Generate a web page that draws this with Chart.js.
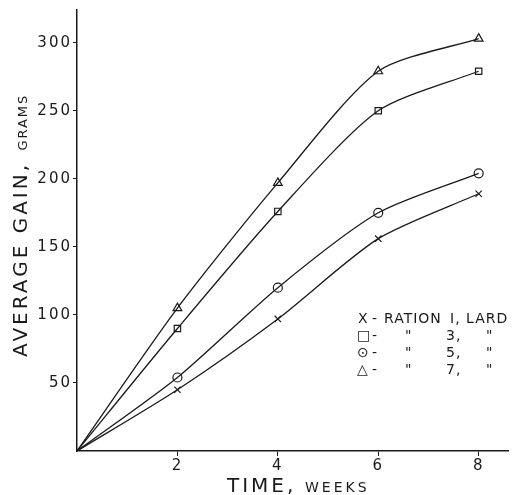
<!DOCTYPE html>
<html>
<head>
<meta charset="utf-8">
<script src="https://cdn.jsdelivr.net/npm/chart.js@4"></script>
<style>
  body { margin: 0; background: #fff; }
</style>
</head>
<body>
<canvas id="canvas-gain" width="515" height="495"></canvas>
<script>
const weeks = [0, 2, 4, 6, 8];
const ration1 = [0, 45, 97, 156, 189];
const ration3 = [0, 90, 176, 250, 279];
const ration5 = [0, 54, 120, 175, 204];
const ration7 = [0, 105, 197, 279, 303];
const xTicks = [2, 4, 6, 8];
const yTicks = [50, 100, 150, 200, 250, 300];
const legendRows = [
  ["X", "-", "RATION", "I, LARD", ""],
  ["□", "-", "\"", "3,", "\""],
  ["⊙", "-", "\"", "5,", "\""],
  ["△", "-", "\"", "7,", "\""],
];

const ink = "#1a1a1a";
const font = "'DejaVu Sans', sans-serif";

function series(values, style) {
  return {
    data: weeks.map((w, i) => ({ x: w, y: values[i] })),
    showLine: true,
    borderColor: ink,
    borderWidth: 1.3,
    tension: 0.25,
    pointStyle: values.map((v, i) => (i === 0 ? false : style)),
    pointRadius: style === "triangle" ? 5 : 4.5,
    pointBorderColor: ink,
    pointBackgroundColor: "rgba(255,255,255,0)",
    pointBorderWidth: 1.2,
  };
}

// wider lettering for tick labels, like the stencilled original
const spacing = {
  id: "spacing",
  beforeDraw(chart) {
    chart.ctx.letterSpacing = "2px";
  },
};

// axis titles and the hand lettered key
const lettering = {
  id: "lettering",
  afterDraw(chart) {
    const ctx = chart.ctx;
    ctx.save();
    ctx.fillStyle = ink;
    ctx.textAlign = "left";
    ctx.textBaseline = "alphabetic";

    // y title
    ctx.save();
    ctx.translate(27, 357);
    ctx.rotate(-Math.PI / 2);
    ctx.letterSpacing = "3px";
    ctx.font = "20px " + font;
    ctx.fillText("AVERAGE GAIN,", 0, 0);
    let w = ctx.measureText("AVERAGE GAIN, ").width;
    ctx.letterSpacing = "2px";
    ctx.font = "13px " + font;
    ctx.fillText("GRAMS", w + 2, 0);
    ctx.restore();

    // x title
    ctx.letterSpacing = "3px";
    ctx.font = "20px " + font;
    ctx.fillText("TIME,", 227, 492);
    ctx.font = "14px " + font;
    ctx.fillText("WEEKS", 305, 492);

    // key
    ctx.letterSpacing = "1px";
    ctx.font = "14px " + font;
    const cols = [358, 372, 384, 450];
    const rowCols = [357, 372, 405, 446, 486];
    legendRows.forEach((row, r) => {
      const y = 323 + r * 17;
      const xs = r === 0 ? cols : rowCols;
      row.forEach((t, c) => { if (t) ctx.fillText(t, xs[c], y); });
    });
    ctx.restore();
  },
};

new Chart(document.getElementById("canvas-gain"), {
  type: "scatter",
  data: {
    datasets: [
      series(ration1, "crossRot"),
      series(ration3, "rect"),
      series(ration5, "circle"),
      series(ration7, "triangle"),
    ],
  },
  options: {
    responsive: false,
    animation: false,
    layout: { padding: { top: 9, right: 3 } },
    plugins: { legend: { display: false }, tooltip: { enabled: false } },
    scales: {
      x: {
        type: "linear",
        min: 0,
        max: 8.6,
        afterFit: (s) => { s.height = 44; },
        afterBuildTicks: (s) => { s.ticks = xTicks.map((v) => ({ value: v })); },
        grid: { drawOnChartArea: false, tickLength: 5, color: ink },
        border: { color: ink, width: 1.5 },
        ticks: { color: ink, padding: 1, font: { family: font, size: 15 } },
      },
      y: {
        min: 0,
        max: 324,
        afterFit: (s) => { s.width = 77; },
        afterBuildTicks: (s) => { s.ticks = yTicks.map((v) => ({ value: v })); },
        grid: { drawOnChartArea: false, tickLength: 4, color: ink },
        border: { color: ink, width: 1.5 },
        ticks: { color: ink, padding: 1, font: { family: font, size: 15 } },
      },
    },
  },
  plugins: [spacing, lettering],
});
</script>
</body>
</html>
